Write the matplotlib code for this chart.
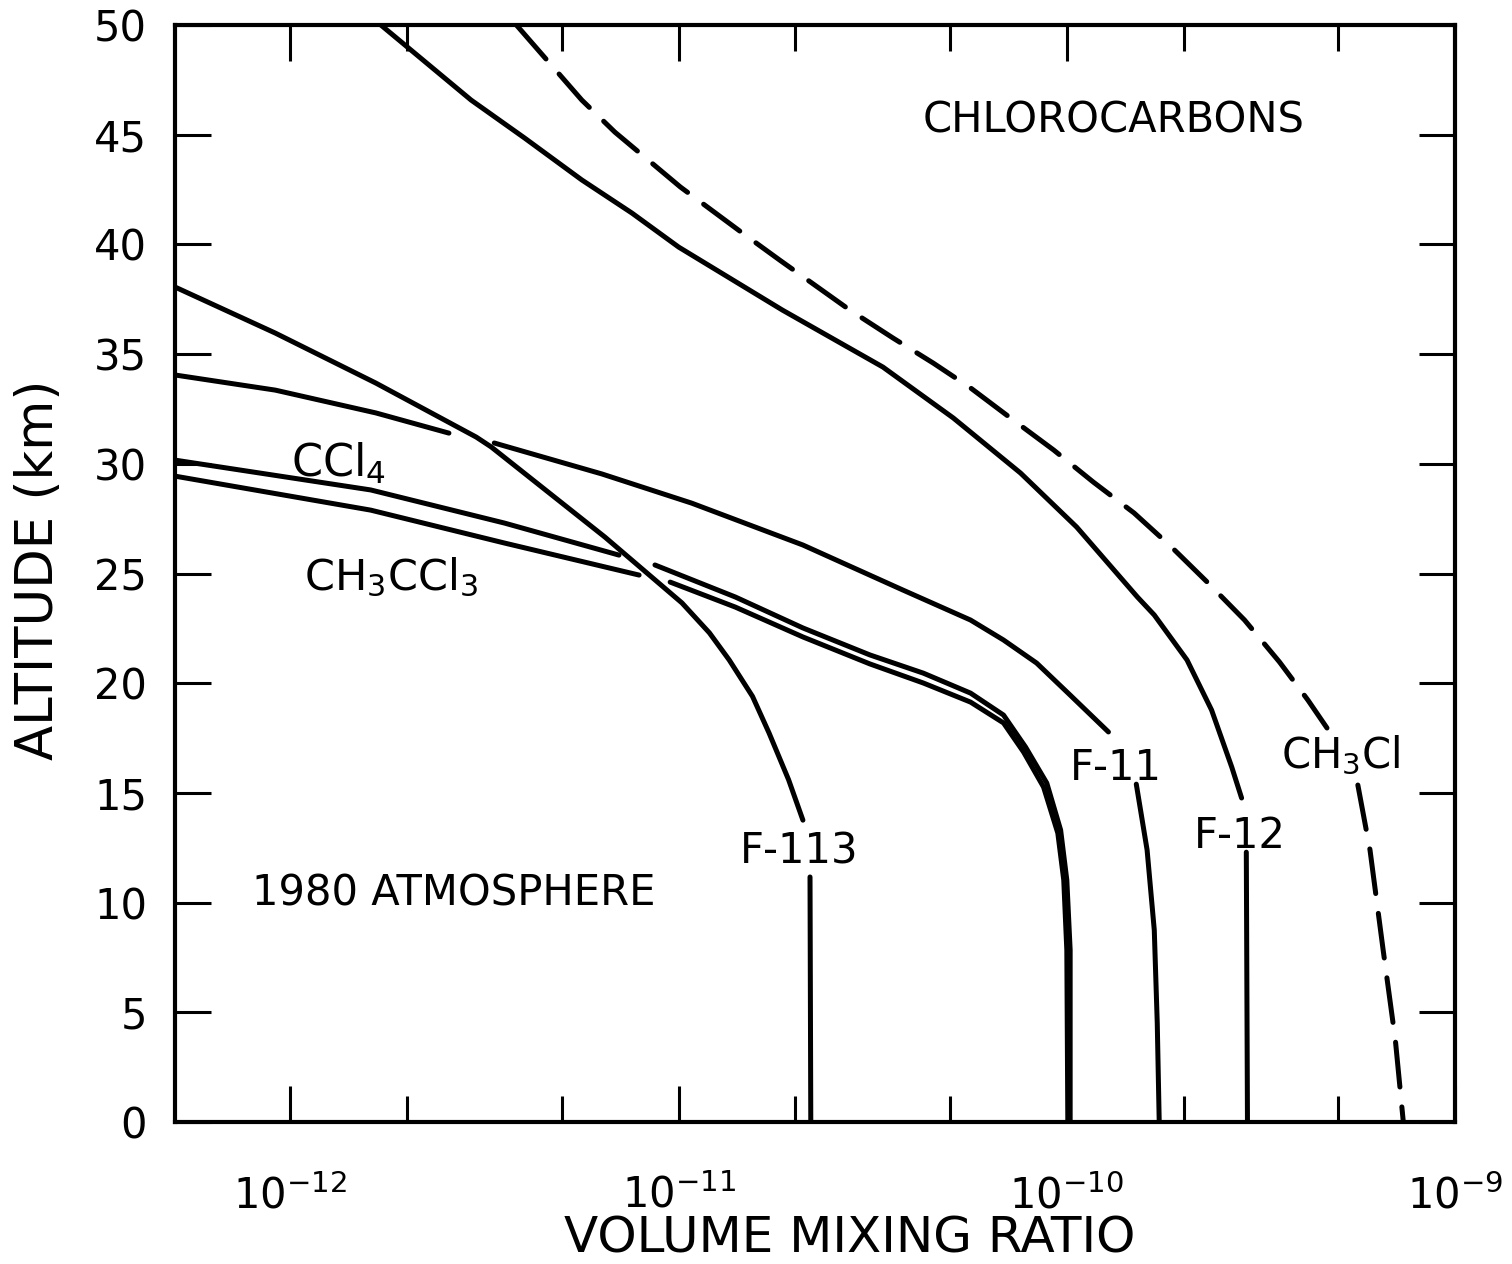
import matplotlib
matplotlib.use("Agg")
import matplotlib.pyplot as plt
from matplotlib.ticker import FixedLocator, NullFormatter

# curves: mixing ratio, altitude (km); each gap in the
# drawing is a separate segment
f12_x = [1.71e-12, 2.92e-12, 4.01e-12, 5.63e-12, 7.58e-12, 1.00e-11, 1.85e-11, 3.36e-11,
         5.10e-11, 7.60e-11, 1.06e-10, 1.52e-10, 1.68e-10, 2.04e-10, 2.36e-10, 2.66e-10, 2.82e-10]
f12_y = [50.0, 46.58, 44.85, 42.94, 41.43, 39.88, 37.01, 34.41,
         32.09, 29.58, 27.12, 23.93, 23.11, 21.06, 18.78, 16.18, 14.77]
f12_low_x = [2.90e-10, 2.91e-10, 2.92e-10]
f12_low_y = [12.3, 6.0, 0.0]

ch3cl_x = [3.82e-12, 5.63e-12, 6.85e-12, 1.01e-11, 1.46e-11, 1.82e-11, 2.76e-11, 3.57e-11, 4.53e-11,
           5.65e-11, 7.16e-11, 9.25e-11, 1.17e-10, 1.49e-10, 1.86e-10, 2.30e-10, 2.87e-10, 3.53e-10,
           4.18e-10, 4.68e-10]
ch3cl_y = [50.0, 46.58, 45.12, 42.62, 40.52, 39.29, 37.01, 35.73, 34.59,
           33.46, 32.09, 30.63, 29.17, 27.76, 26.21, 24.61, 22.88, 20.97,
           19.23, 17.96]
ch3cl_low_x = [5.62e-10, 6.04e-10, 6.53e-10, 7.02e-10, 7.36e-10]
ch3cl_low_y = [15.36, 12.4, 7.84, 3.74, 0.0]

f11_a_x = [5.04e-13, 9.14e-13, 1.66e-12, 2.56e-12]
f11_a_y = [34.05, 33.36, 32.32, 31.40]
f11_b_x = [3.35e-12, 6.34e-12, 1.08e-11, 2.09e-11, 3.78e-11, 5.65e-11, 6.87e-11, 8.36e-11, 1.02e-10, 1.28e-10]
f11_b_y = [30.95, 29.54, 28.21, 26.30, 24.25, 22.88, 21.97, 20.92, 19.46, 17.78]
f11_c_x = [1.51e-10, 1.61e-10, 1.68e-10, 1.71e-10, 1.73e-10]
f11_c_y = [15.4, 12.4, 8.75, 4.5, 0.0]

ccl4_a_x = [5.04e-13, 1.61e-12, 3.56e-12, 7.02e-12]
ccl4_a_y = [30.17, 28.81, 27.30, 25.84]
ccl4_b_x = [8.69e-12, 1.40e-11, 2.09e-11, 3.11e-11, 4.27e-11, 5.65e-11, 6.87e-11, 7.83e-11,
            8.88e-11, 9.64e-11, 1.00e-10, 1.02e-10, 1.02e-10]
ccl4_b_y = [25.39, 23.93, 22.52, 21.29, 20.46, 19.55, 18.55, 17.09,
            15.45, 13.31, 11.03, 7.84, 0.0]

mcf_a_x = [5.04e-13, 1.61e-12, 3.56e-12, 7.91e-12]
mcf_a_y = [29.44, 27.89, 26.39, 24.93]
mcf_b_x = [9.51e-12, 1.40e-11, 2.09e-11, 3.11e-11, 4.27e-11, 5.65e-11, 6.87e-11, 7.74e-11,
           8.71e-11, 9.48e-11, 9.82e-11, 1.00e-10, 1.006e-10]
mcf_b_y = [24.61, 23.47, 22.11, 20.88, 20.01, 19.14, 18.19, 16.86,
           15.27, 13.17, 11.03, 7.84, 0.0]

f113_x = [5.04e-13, 9.14e-13, 1.66e-12, 3.01e-12, 3.29e-12, 6.46e-12, 1.02e-11, 1.20e-11,
          1.35e-11, 1.55e-11, 1.71e-11, 1.92e-11, 2.09e-11]
f113_y = [38.06, 35.96, 33.68, 31.22, 30.77, 26.66, 23.66, 22.3,
          21.06, 19.4, 17.73, 15.6, 13.76]
f113_low_x = [2.18e-11, 2.19e-11]
f113_low_y = [11.17, 0.0]

xticks = [1e-12, 1e-11, 1e-10, 1e-9]
xtick_labels = [r"$10^{-12}$", r"$10^{-11}$", r"$10^{-10}$", r"$10^{-9}$"]
yticks = list(range(0, 51, 5))

fig = plt.figure(figsize=(15.12, 12.64), dpi=100)
ax = fig.add_axes([0.1157, 0.1123, 0.8466, 0.8679])

lw = 3.6
solid = [(f12_x, f12_y), (f12_low_x, f12_low_y),
         (f11_a_x, f11_a_y), (f11_b_x, f11_b_y), (f11_c_x, f11_c_y),
         (ccl4_a_x, ccl4_a_y), (ccl4_b_x, ccl4_b_y),
         (mcf_a_x, mcf_a_y), (mcf_b_x, mcf_b_y),
         (f113_x, f113_y), (f113_low_x, f113_low_y)]
for xs, ys in solid:
    ax.plot(xs, ys, color="black", lw=lw, solid_capstyle="round", solid_joinstyle="round")
for xs, ys in [(ch3cl_x, ch3cl_y), (ch3cl_low_x, ch3cl_low_y)]:
    ax.plot(xs, ys, color="black", lw=lw, dashes=(9, 4), dash_capstyle="round")

ax.set_xscale("log")
ax.set_xlim(5.04e-13, 1e-9)
ax.set_ylim(0, 50)

ax.xaxis.set_major_locator(FixedLocator(xticks))
ax.set_xticklabels(xtick_labels)
ax.xaxis.set_minor_locator(FixedLocator([m * 10.0**e for e in (-13, -12, -11, -10) for m in (2, 5)]))
ax.xaxis.set_minor_formatter(NullFormatter())
ax.set_yticks(yticks)

ax.tick_params(which="both", direction="in", top=True, right=True, width=2.2)
ax.tick_params(which="major", length=26)
ax.tick_params(which="minor", length=19)
ax.tick_params(axis="x", which="major", labelsize=30, pad=38)
ax.tick_params(axis="y", which="major", labelsize=30, pad=20)
for s in ax.spines.values():
    s.set_linewidth(3)

txt = dict(fontsize=30, ha="center", va="baseline")
ax.text(1.32e-10, 45.08, "CHLOROCARBONS", **txt)
ax.text(2.64e-12, 9.89, "1980 ATMOSPHERE", **txt)
ax.text(1.33e-12, 29.40, r"CCl$_4$", fontsize=32, ha="center", va="baseline")
ax.text(1.82e-12, 24.25, r"CH$_3$CCl$_3$", fontsize=31, ha="center", va="baseline")
ax.text(2.05e-11, 11.80, "F-113", **txt)
ax.text(1.34e-10, 15.59, "F-11", **txt)
ax.text(2.79e-10, 12.49, "F-12", **txt)
ax.text(5.08e-10, 16.13, r"CH$_3$Cl", **txt)

fig.text(0.562, 0.020, "VOLUME MIXING RATIO", fontsize=36, ha="center", va="center")
fig.text(0.026, 0.549, "ALTITUDE (km)", fontsize=37, ha="center", va="center", rotation=90)

fig.savefig("out.png", dpi=100)
